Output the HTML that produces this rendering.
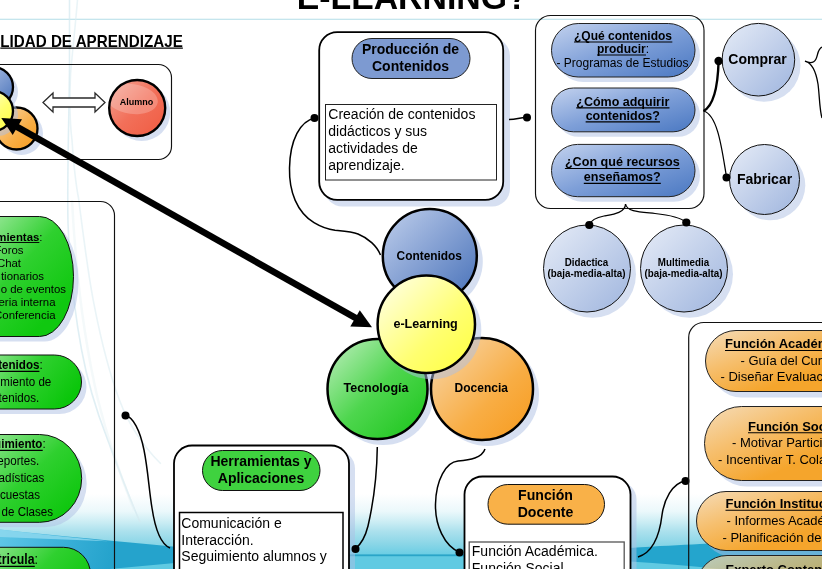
<!DOCTYPE html>
<html>
<head>
<meta charset="utf-8">
<title>e-Learning</title>
<style>
html,body{margin:0;padding:0;background:#fff;}
body{width:822px;height:569px;overflow:hidden;font-family:"Liberation Sans",sans-serif;}
svg{display:block;position:absolute;left:0;top:0;will-change:transform;}
text{font-family:"Liberation Sans",sans-serif;fill:#000;}
.b{font-weight:bold;}
.u{text-decoration:none;}
.sh{fill:#adc0e4;fill-opacity:.5;}
</style>
</head>
<body>
<svg width="822" height="569" viewBox="0 0 822 569">
<defs>
  <linearGradient id="bgv" x1="0" y1="0" x2="0" y2="1">
    <stop offset="0" stop-color="#ffffff"/>
    <stop offset="0.28" stop-color="#ebf8fb"/>
    <stop offset="0.45" stop-color="#cbedf4"/>
    <stop offset="0.6" stop-color="#ace1ed"/>
    <stop offset="0.8" stop-color="#8bd6e7"/>
    <stop offset="1" stop-color="#66cce3"/>
  </linearGradient>
  <linearGradient id="waveL" gradientUnits="userSpaceOnUse" x1="0" y1="530" x2="110" y2="560">
    <stop offset="0" stop-color="#60c7e6"/>
    <stop offset="0.5" stop-color="#3db2da"/>
    <stop offset="1" stop-color="#25a3cc"/>
  </linearGradient>
  <linearGradient id="gBluePill" x1="0" y1="0" x2="1" y2="1">
    <stop offset="0" stop-color="#c3d2ee"/>
    <stop offset="0.5" stop-color="#7e9fd8"/>
    <stop offset="1" stop-color="#4a78c2"/>
  </linearGradient>
  <linearGradient id="gBlueLight" x1="0" y1="0" x2="1" y2="1">
    <stop offset="0" stop-color="#e6ecf7"/>
    <stop offset="1" stop-color="#9fb5de"/>
  </linearGradient>
  <linearGradient id="gBlueC" x1="0" y1="0" x2="1" y2="1">
    <stop offset="0" stop-color="#c0cfec"/>
    <stop offset="1" stop-color="#456fb8"/>
  </linearGradient>
  <linearGradient id="gYellow" x1="0" y1="0" x2="1" y2="1">
    <stop offset="0" stop-color="#fffff0"/>
    <stop offset="0.6" stop-color="#ffff70"/>
    <stop offset="1" stop-color="#ffff3c"/>
  </linearGradient>
  <linearGradient id="gGreenC" x1="0" y1="0" x2="1" y2="1">
    <stop offset="0" stop-color="#c2efc2"/>
    <stop offset="0.5" stop-color="#4ed64e"/>
    <stop offset="1" stop-color="#18c418"/>
  </linearGradient>
  <linearGradient id="gGreenP1" gradientUnits="userSpaceOnUse" x1="-25" y1="215" x2="65" y2="300">
    <stop offset="0" stop-color="#b0ecb0"/>
    <stop offset="0.55" stop-color="#2fd02f"/>
    <stop offset="1" stop-color="#10c810"/>
  </linearGradient>
  <linearGradient id="gGreenP2" gradientUnits="userSpaceOnUse" x1="-20" y1="348" x2="60" y2="410">
    <stop offset="0" stop-color="#a8eaa8"/>
    <stop offset="0.55" stop-color="#2fd02f"/>
    <stop offset="1" stop-color="#0bc60b"/>
  </linearGradient>
  <linearGradient id="gGreenP3" gradientUnits="userSpaceOnUse" x1="-20" y1="426" x2="65" y2="520">
    <stop offset="0" stop-color="#a8eaa8"/>
    <stop offset="0.55" stop-color="#2fd02f"/>
    <stop offset="1" stop-color="#0bc60b"/>
  </linearGradient>
  <linearGradient id="gGreenP4" gradientUnits="userSpaceOnUse" x1="-20" y1="538" x2="65" y2="620">
    <stop offset="0" stop-color="#a8eaa8"/>
    <stop offset="0.55" stop-color="#2fd02f"/>
    <stop offset="1" stop-color="#0bc60b"/>
  </linearGradient>
  <linearGradient id="gOrangeC" x1="0" y1="0" x2="1" y2="1">
    <stop offset="0" stop-color="#f8d9b0"/>
    <stop offset="0.6" stop-color="#f8ad44"/>
    <stop offset="1" stop-color="#f79a1c"/>
  </linearGradient>
  <linearGradient id="gOrangeP" gradientUnits="objectBoundingBox" x1="0" y1="0" x2="0.65" y2="0.55">
    <stop offset="0" stop-color="#f5dcb8"/>
    <stop offset="0.5" stop-color="#f6bf6e"/>
    <stop offset="1" stop-color="#f5a52c"/>
  </linearGradient>
  <linearGradient id="gRed" x1="0" y1="0" x2="1" y2="1">
    <stop offset="0" stop-color="#f4a898"/>
    <stop offset="0.5" stop-color="#f2705a"/>
    <stop offset="1" stop-color="#f05a40"/>
  </linearGradient>
  <clipPath id="clipAl"><circle cx="137.200" cy="108" r="27"/></clipPath>
</defs>

<!-- ============ background ============ -->
<rect x="0" y="0" width="822" height="569" fill="#ffffff"/>
<rect x="0" y="494" width="822" height="62" fill="url(#bgv)"/>
<rect x="0" y="555.5" width="822" height="14" fill="#60cae2"/>
<rect x="170" y="554.400" width="300" height="1.800" fill="#2aa5c8"/>
<!-- teal waves -->
<path d="M0,529.5 C60,536 120,541.5 175,546.8 L350,554.6 L350,556.2 L175,563 L110,569 L0,569 Z" fill="url(#waveL)"/>
<path d="M0,529.500 C35,533.500 70,537.500 108,541.200 L0,537 Z" fill="#8ed8ee" opacity="0.85"/>
<path d="M460,554.6 L630,548 C660,546 680,545 700,544 L822,538 L822,569 L720,569 C690,566 660,563 630,561.5 L460,556.2 Z" fill="#24a5cd"/>
<!-- faint decorative lines -->
<line x1="0" y1="19.300" x2="822" y2="19.300" stroke="#b2dde7" stroke-width="1.100"/>
<path d="M69.500,0 L69.500,70 C69,120 67,180 68,223 C70,280 76,320 81.600,350 C88,385 98,415 107,438 C116,462 128,495 140,522" fill="none" stroke="#d3e8ef" stroke-width="1.600" opacity="0.7"/>
<path d="M77.500,0 C75,30 72,55 70.500,75 C69.500,100 70,125 72,140 C74,170 76,185 78.500,198 C84,240 88,275 94.300,305.600 C101,340 110,375 119.600,400.500 C130,428 145,448 160.800,463.800" fill="none" stroke="#dcecf2" stroke-width="1.600" opacity="0.6"/>
<path d="M72,200 C76,280 84,340 98,400 C108,440 122,480 134,510" fill="none" stroke="#e6f1f5" stroke-width="2.500" opacity="0.45"/>

<!-- ============ title ============ -->
<text x="296.700" y="9.200" class="b" font-size="33.800">E-LEARNING?</text>
<text x="0.300" y="46.600" class="b u" font-size="16" transform="scale(0.95,1)">LIDAD DE APRENDIZAJE</text>

<!-- ============ top-left box ============ -->
<rect x="-20" y="64.500" width="191.500" height="95" rx="13" ry="13" fill="none" stroke="#111" stroke-width="1.150"/>
<!-- shadows -->
<circle cx="-2" cy="92" r="20" class="sh"/>
<circle cx="21.500" cy="133.500" r="21.500" class="sh"/>
<circle cx="141.700" cy="112.500" r="28.500" class="sh"/>
<circle cx="-7" cy="87" r="20" fill="url(#gBlueC)" stroke="#000" stroke-width="2.300"/>
<circle cx="16.500" cy="128.500" r="21" fill="url(#gOrangeC)" stroke="#000" stroke-width="2.300"/>
<circle cx="-2.500" cy="115.500" r="20.500" class="sh"/>
<circle cx="-7" cy="111" r="20" fill="url(#gYellow)" stroke="#000" stroke-width="2.300"/>
<circle cx="137.200" cy="108" r="28" fill="url(#gRed)"/>
<ellipse cx="132" cy="99" rx="26" ry="15" fill="#fff" fill-opacity="0.22" transform="rotate(8 132 99)" clip-path="url(#clipAl)"/>
<circle cx="137.200" cy="108" r="28" fill="none" stroke="#000" stroke-width="2.400"/>
<text x="136.5" y="104.5" class="b" font-size="9" text-anchor="middle">Alumno</text>
<!-- double arrow -->
<path d="M43,102.500 L53,93 L53,98 L95,98 L95,93 L105,102.500 L95,112 L95,107 L53,107 L53,112 Z" fill="#fff" stroke="#2a2a2a" stroke-width="1.300" stroke-linejoin="miter"/>

<!-- ============ left tall box ============ -->
<rect x="-20" y="201.500" width="134.500" height="400" rx="14" ry="14" fill="none" stroke="#111" stroke-width="1.150"/>
<!-- green pills shadows -->
<rect x="-55" y="221.500" width="133.500" height="120" rx="34" ry="60" class="sh"/>
<rect x="-35" y="360" width="121.500" height="54" rx="27" class="sh"/>
<rect x="-55" y="440" width="141.700" height="87.300" rx="42" ry="43.600" class="sh"/>
<!-- green pills -->
<rect x="-60" y="216.500" width="133.500" height="120" rx="34" ry="60" fill="url(#gGreenP1)" stroke="#111" stroke-width="1"/>
<rect x="-40" y="355" width="121.500" height="54" rx="27" fill="url(#gGreenP2)" stroke="#111" stroke-width="1"/>
<rect x="-60" y="434.500" width="141.700" height="87.800" rx="42" ry="43.900" fill="url(#gGreenP3)" stroke="#111" stroke-width="1"/>
<rect x="-40" y="547.300" width="130.500" height="54" rx="27" fill="url(#gGreenP4)" stroke="#111" stroke-width="1"/>

<g font-size="11.400">
<text x="42.500" y="240.500" text-anchor="end"><tspan class="b u">mientas</tspan>:</text>
<text x="23.500" y="253.700" text-anchor="end">Foros</text>
<text x="21" y="266.800" text-anchor="end">Chat</text>
<text x="44" y="279.900" text-anchor="end">tionarios</text>
<text x="66" y="293" text-anchor="end">o de eventos</text>
<text x="55.500" y="306" text-anchor="end">eria interna</text>
<text x="55.500" y="319" text-anchor="end">Conferencia</text>
</g>
<g font-size="13.500" transform="scale(0.86,1)">
<text x="49.59" y="369.1" text-anchor="end"><tspan class="b u">tenidos</tspan>:</text>
<text x="59.65" y="385.7" text-anchor="end">miento de</text>
<text x="45.61" y="402.3" text-anchor="end">tenidos.</text>
<text x="53.10" y="448.1" text-anchor="end"><tspan class="b u">uimiento</tspan>:</text>
<text x="45.61" y="465" text-anchor="end">eportes.</text>
<text x="51.46" y="481.9" text-anchor="end">adísticas</text>
<text x="46.43" y="498.9" text-anchor="end">cuestas</text>
<text x="61.75" y="515.8" text-anchor="end">de Clases</text>
</g>
<g font-size="15" transform="scale(0.82,1)">
<text x="46.22" y="564.400" text-anchor="end"><tspan class="b u">tricula</tspan>:</text>
</g>

<!-- connector from tall box to Herramientas -->
<circle cx="125.500" cy="415.500" r="4" fill="#000"/>
<path d="M125.500,415.500 C133,417 140,430 144,450 C148,470 149,490 152,508 C155,528 160,544 170,548" fill="none" stroke="#000" stroke-width="1.5"/>

<!-- ============ Producción de Contenidos ============ -->
<rect x="324.500" y="38" width="185.500" height="168.600" rx="18" class="sh"/>
<rect x="319.200" y="32.200" width="184" height="167.600" rx="18" fill="#fff" stroke="#000" stroke-width="1.800"/>
<rect x="352" y="38.500" width="118" height="40" rx="20" fill="#7d9ad1" stroke="#222" stroke-width="1"/>
<text x="410.500" y="54.300" class="b" font-size="14" text-anchor="middle">Producción de</text>
<text x="410.500" y="71" class="b" font-size="14" text-anchor="middle">Contenidos</text>
<rect x="325.500" y="104.500" width="171" height="75.500" fill="#fff" stroke="#222" stroke-width="1"/>
<g font-size="14">
<text x="328.300" y="118.800">Creación de contenidos</text>
<text x="328.300" y="135.800">didácticos y sus</text>
<text x="328.300" y="152.800">actividades de</text>
<text x="328.300" y="169.800">aprendizaje.</text>
</g>
<!-- connectors -->
<circle cx="314.500" cy="118" r="4" fill="#000"/>
<path d="M315,118 C300,121 290,140 289.500,168 C289,192 297,212 314,222.700 C322,227.500 328,229.500 335,230.300 C343,231 352,231.500 358,234 C368,238 377,246 380.500,255" fill="none" stroke="#000" stroke-width="1.5"/>
<circle cx="527" cy="117.500" r="4" fill="#000"/>
<path d="M509,119.500 C518,119.500 518,117.500 527,117.500" fill="none" stroke="#000" stroke-width="1.5"/>

<!-- ============ right questions box ============ -->
<rect x="535.500" y="15.500" width="168.500" height="193" rx="15" fill="none" stroke="#111" stroke-width="1.150"/>
<rect x="556.500" y="28.500" width="143.500" height="53.500" rx="26.700" class="sh"/>
<rect x="556.500" y="93" width="143.500" height="43.800" rx="21.900" class="sh"/>
<rect x="556.500" y="149.400" width="143.500" height="52.300" rx="26.100" class="sh"/>
<rect x="551.500" y="23.500" width="143.500" height="53.500" rx="26.700" fill="url(#gBluePill)" stroke="#222" stroke-width="1"/>
<rect x="551.500" y="88" width="143.500" height="43.800" rx="21.900" fill="url(#gBluePill)" stroke="#222" stroke-width="1"/>
<rect x="551.500" y="144.400" width="143.500" height="52.300" rx="26.100" fill="url(#gBluePill)" stroke="#222" stroke-width="1"/>
<g font-size="12" text-anchor="middle">
<text x="623" y="40" class="b u">¿Qué contenidos</text>
<text x="623" y="53"><tspan class="b u">producir</tspan>:</text>
<text x="622.500" y="66.800">- Programas de Estudios</text>
<text x="622.800" y="105.700" class="b u" font-size="12.500">¿Cómo adquirir</text>
<text x="622.800" y="119.700" class="b u" font-size="12.500">contenidos?</text>
<text x="622.300" y="166.400" class="b u" font-size="12.600">¿Con qué recursos</text>
<text x="622.300" y="181.200" class="b u" font-size="12.600">enseñamos?</text>
</g>

<!-- Comprar / Fabricar -->
<circle cx="764.200" cy="65.500" r="36.300" class="sh"/>
<circle cx="770.300" cy="185.300" r="35" class="sh"/>
<circle cx="758.400" cy="59.700" r="36.300" fill="url(#gBlueLight)" stroke="#111" stroke-width="1"/>
<circle cx="764.500" cy="179.500" r="35" fill="url(#gBlueLight)" stroke="#111" stroke-width="1"/>
<text x="757.500" y="64" class="b" font-size="14" text-anchor="middle">Comprar</text>
<text x="764.500" y="183.500" class="b" font-size="14" text-anchor="middle">Fabricar</text>
<path d="M703.500,111 C715,105 718,82 718.600,61" fill="none" stroke="#000" stroke-width="2.400"/>
<path d="M703.500,111 C718,115 722,150 726.500,177" fill="none" stroke="#000" stroke-width="1.250"/>
<circle cx="718.600" cy="61" r="4.200" fill="#000"/>
<circle cx="726.500" cy="177.500" r="4" fill="#000"/>
<!-- curly brace right edge -->
<path d="M822,47 C817.500,49 818,55 816,59 C814,63 810,63.500 805,61.200 C812,63 816,72 818,84 C819.500,95 819.500,110 822,118" fill="none" stroke="#000" stroke-width="1.300"/>

<!-- Didactica / Multimedia -->
<circle cx="592.500" cy="274.300" r="43.500" class="sh"/>
<circle cx="689.500" cy="274.300" r="43.500" class="sh"/>
<circle cx="587" cy="268.500" r="43.500" fill="url(#gBlueLight)" stroke="#111" stroke-width="1"/>
<circle cx="684" cy="268.500" r="43.500" fill="url(#gBlueLight)" stroke="#111" stroke-width="1"/>
<g font-size="10.500" class="b" text-anchor="middle" transform="scale(0.935,1)">
<text x="627.27" y="265.700">Didactica</text>
<text x="627.27" y="277.300">(baja-media-alta)</text>
<text x="731.02" y="265.700">Multimedia</text>
<text x="731.02" y="277.300">(baja-media-alta)</text>
</g>
<path d="M625.500,204 C625.500,213 612,214.500 604,216 C596,217.500 591,220 589.300,225" fill="none" stroke="#000" stroke-width="1.250"/>
<path d="M625.500,204 C627,212 640,212 655,213.500 C670,215 680,217 686.300,222.500" fill="none" stroke="#000" stroke-width="1.250"/>
<circle cx="589.300" cy="225" r="4.100" fill="#000"/>
<circle cx="686.300" cy="222.500" r="4.100" fill="#000"/>

<!-- ============ central circles ============ -->
<circle cx="435.300" cy="261.500" r="47.500" class="sh"/>
<circle cx="383" cy="394.500" r="50.500" class="sh"/>
<circle cx="487.500" cy="394.500" r="51.500" class="sh"/>
<circle cx="429.800" cy="256" r="47" fill="url(#gBlueC)" stroke="#000" stroke-width="2.500"/>
<circle cx="377.500" cy="389" r="50" fill="url(#gGreenC)" stroke="#000" stroke-width="2.500"/>
<circle cx="482" cy="389" r="51" fill="url(#gOrangeC)" stroke="#000" stroke-width="2.500"/>
<circle cx="431.800" cy="329.700" r="49.500" class="sh"/>
<circle cx="426.300" cy="324.200" r="48.700" fill="url(#gYellow)" stroke="#000" stroke-width="2.500"/>
<g font-size="12" class="b" text-anchor="middle">
<text x="429.300" y="259.500" font-size="11.900">Contenidos</text>
<text x="425.600" y="328.300" font-size="12.600">e-Learning</text>
<text x="376" y="391.900" font-size="12.500">Tecnología</text>
<text x="481.300" y="391.900">Docencia</text>
</g>

<!-- big arrow -->
<line x1="14" y1="125.200" x2="359" y2="319.900" stroke="#000" stroke-width="6.500"/>
<polygon points="1.300,118 22,119.200 12.700,135.100" fill="#000"/>
<polygon points="372,327.200 359.800,310.300 350.300,326.400" fill="#000"/>

<!-- ============ Herramientas y Aplicaciones ============ -->
<rect x="179.500" y="450.500" width="175.500" height="160" rx="18" class="sh"/>
<rect x="174" y="445.500" width="175" height="160" rx="18" fill="#fff" stroke="#000" stroke-width="1.800"/>
<rect x="202.500" y="450.500" width="117.500" height="40" rx="20" fill="#3fd23f" stroke="#111" stroke-width="1"/>
<text x="261" y="466" class="b" font-size="14" text-anchor="middle">Herramientas y</text>
<text x="261" y="483.300" class="b" font-size="14" text-anchor="middle">Aplicaciones</text>
<rect x="179.500" y="512.500" width="163.500" height="80" fill="#fff" stroke="#000" stroke-width="1.500"/>
<g font-size="14">
<text x="181.300" y="527.700">Comunicación e</text>
<text x="181.300" y="544.500">Interacción.</text>
<text x="181.300" y="561.300">Seguimiento alumnos y</text>
</g>
<circle cx="355.500" cy="549" r="4" fill="#000"/>
<path d="M377.300,447 C377,470 374,500 368,526 C365,538 360,545 355.500,548.600" fill="none" stroke="#000" stroke-width="1.500"/>

<!-- ============ Función Docente ============ -->
<rect x="469.500" y="481.500" width="167" height="120" rx="18" class="sh"/>
<rect x="464.500" y="476.500" width="166" height="120" rx="18" fill="#fff" stroke="#000" stroke-width="1.800"/>
<rect x="488" y="484.500" width="116.500" height="39.700" rx="19.800" fill="#f9b148" stroke="#111" stroke-width="1"/>
<text x="545.500" y="499.800" class="b" font-size="14.100" text-anchor="middle">Función</text>
<text x="545.500" y="516.500" class="b" font-size="14.100" text-anchor="middle">Docente</text>
<rect x="469.200" y="542" width="155" height="60" fill="#fff" stroke="#555" stroke-width="1.300"/>
<g font-size="14">
<text x="471.800" y="556.300">Función Académica.</text>
<text x="471.800" y="573.300">Función Social.</text>
</g>
<circle cx="459.500" cy="552.500" r="4" fill="#000"/>
<path d="M485,449 C482,458 470,460 458,461 C446,462 436,480 435.500,504 C435,525 444,546 460,552.600" fill="none" stroke="#000" stroke-width="1.500"/>
<path d="M685.500,481 C672,483 664,500 662,515 C660,532 654,552 638,557" fill="none" stroke="#000" stroke-width="1.500"/>
<circle cx="685.500" cy="481" r="4" fill="#000"/>

<!-- ============ right orange box ============ -->
<rect x="688.700" y="322.500" width="200" height="300" rx="15" fill="none" stroke="#111" stroke-width="1.200"/>
<rect x="711" y="336.500" width="200" height="61" rx="30.500" class="sh"/>
<rect x="710" y="412.500" width="200" height="74" rx="37" class="sh"/>
<rect x="702" y="497.500" width="200" height="59" rx="29.500" class="sh"/>
<rect x="705.500" y="330.500" width="200" height="61" rx="30.500" fill="url(#gOrangeP)" stroke="#222" stroke-width="1"/>
<rect x="704.500" y="406.500" width="200" height="74" rx="37" fill="url(#gOrangeP)" stroke="#222" stroke-width="1"/>
<rect x="696.500" y="491.500" width="200" height="59" rx="29.500" fill="url(#gOrangeP)" stroke="#222" stroke-width="1"/>
<rect x="697" y="555.500" width="200" height="60" rx="30" fill="url(#gOrangeP)" fill-opacity="0.72" stroke="#222" stroke-width="1"/>
<g font-size="13">
<text x="725" y="348.200" class="b u">Función Académica</text>
<text x="740.500" y="364.800">- Guía del Curso</text>
<text x="720.500" y="381">- Diseñar Evaluaciones</text>
<text x="748" y="430.500" class="b u">Función Social</text>
<text x="732" y="447">- Motivar Participación</text>
<text x="718" y="464">- Incentivar T. Colaborativo</text>
<text x="725.500" y="508" class="b u">Función Institucional</text>
<text x="726.500" y="525">- Informes Académicos</text>
<text x="722.500" y="541.500">- Planificación del curso</text>
<text x="725.500" y="573.500" class="b u">Experto Contenido</text>
</g>
<g>
<line x1="0.29" y1="48.08" x2="182.86" y2="48.08" stroke="#000" stroke-width="1.25"/>
<line x1="-3.73" y1="242.47" x2="39.33" y2="242.47" stroke="#000" stroke-width="0.97"/>
<line x1="-1.83" y1="371.43" x2="39.42" y2="371.43" stroke="#000" stroke-width="1.15"/>
<line x1="-5.90" y1="450.43" x2="42.72" y2="450.43" stroke="#000" stroke-width="1.15"/>
<line x1="-2.40" y1="566.40" x2="34.82" y2="566.40" stroke="#000" stroke-width="1.10"/>
<line x1="573.99" y1="42.07" x2="672.32" y2="42.07" stroke="#000" stroke-width="1.02"/>
<line x1="596.99" y1="55.07" x2="645.99" y2="55.07" stroke="#000" stroke-width="1.02"/>
<line x1="576.27" y1="107.86" x2="669.46" y2="107.86" stroke="#000" stroke-width="1.06"/>
<line x1="585.64" y1="121.86" x2="659.96" y2="121.86" stroke="#000" stroke-width="1.06"/>
<line x1="564.92" y1="168.57" x2="679.68" y2="168.57" stroke="#000" stroke-width="1.07"/>
<line x1="583.80" y1="183.37" x2="660.80" y2="183.37" stroke="#000" stroke-width="1.07"/>
<line x1="725.00" y1="350.44" x2="848.10" y2="350.44" stroke="#000" stroke-width="1.10"/>
<line x1="748.00" y1="432.74" x2="840.47" y2="432.74" stroke="#000" stroke-width="1.10"/>
<line x1="725.50" y1="510.24" x2="856.22" y2="510.24" stroke="#000" stroke-width="1.10"/>
<line x1="725.50" y1="575.74" x2="841.84" y2="575.74" stroke="#000" stroke-width="1.10"/>
</g>
</svg>
</body>
</html>
